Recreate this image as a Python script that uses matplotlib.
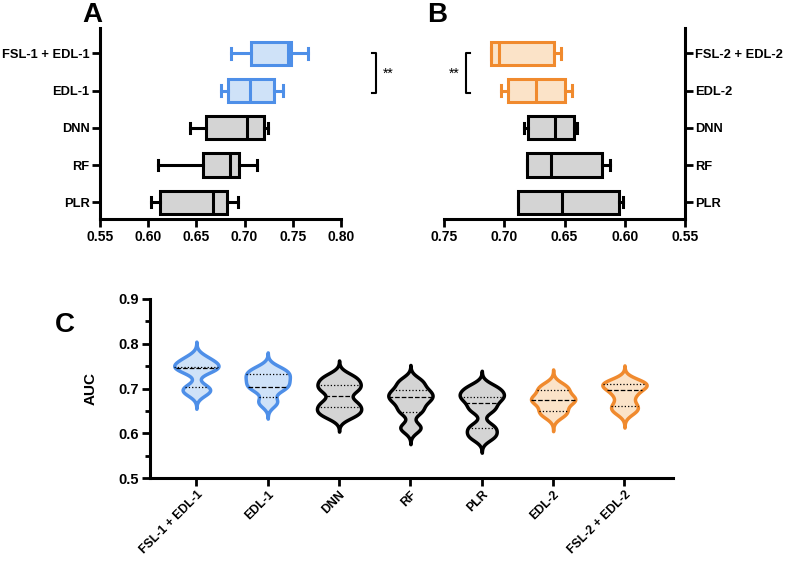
import numpy as np
import matplotlib
matplotlib.use('Agg')
import matplotlib.pyplot as plt
from matplotlib.ticker import MultipleLocator

plt.rcParams['font.family'] = ['Liberation Sans', 'DejaVu Sans']
plt.rcParams['font.weight'] = 'bold'

# panel A - box stats, listed bottom to top
models_a = ['PLR', 'RF', 'DNN', 'EDL-1', 'FSL-1 + EDL-1']
a_min = [0.6027, 0.610, 0.6435, 0.676, 0.686]
a_q1 = [0.6123, 0.657, 0.660, 0.6825, 0.7065]
a_med = [0.6677, 0.685, 0.7023, 0.7058, 0.745]
a_q3 = [0.6815, 0.6946, 0.7206, 0.7307, 0.748]
a_max = [0.6936, 0.7127, 0.724, 0.7397, 0.766]

# panel B - box stats, listed bottom to top
models_b = ['PLR', 'RF', 'DNN', 'EDL-2', 'FSL-2 + EDL-2']
b_min = [0.6011, 0.6121, 0.6398, 0.644, 0.6527]
b_q1 = [0.605, 0.619, 0.6423, 0.6494, 0.659]
b_med = [0.652, 0.6616, 0.6575, 0.6735, 0.7047]
b_q3 = [0.6884, 0.6812, 0.6804, 0.697, 0.7107]
b_max = [0.6887, 0.6812, 0.684, 0.7025, 0.7107]

# panel C - AUC values behind each violin
models_c = ['FSL-1 + EDL-1', 'EDL-1', 'DNN', 'RF', 'PLR', 'EDL-2', 'FSL-2 + EDL-2']
auc_fsl1 = [0.692, 0.702, 0.741, 0.748, 0.755, 0.768]
auc_edl1 = [0.670, 0.699, 0.709, 0.722, 0.733, 0.744]
auc_dnn = [0.641, 0.655, 0.670, 0.696, 0.710, 0.726]
auc_rf = [0.613, 0.651, 0.672, 0.684, 0.696, 0.716]
auc_plr = [0.594, 0.614, 0.655, 0.676, 0.688, 0.703]
auc_edl2 = [0.642, 0.652, 0.671, 0.676, 0.680, 0.698, 0.706]
auc_fsl2 = [0.650, 0.663, 0.686, 0.703, 0.710, 0.715]
c_q1 = [0.7045, 0.682, 0.658, 0.6487, 0.6116, 0.650, 0.661]
c_med = [0.745, 0.7045, 0.684, 0.682, 0.6674, 0.675, 0.697]
c_q3 = [0.749, 0.7328, 0.708, 0.697, 0.682, 0.697, 0.711]

BLUE = '#4E8FE8'
BLUE_F = '#CFE2F8'
ORANGE = '#F08A2E'
ORANGE_F = '#FBE3C8'
GRAY_F = '#D4D4D4'
LW = 2.2

fig = plt.figure(figsize=(7.89, 5.63), dpi=100)


def box_panel(ax, names, lo, q1, med, q3, hi, hl, hl_face):
    stats = []
    for i in range(len(names)):
        stats.append(dict(whislo=lo[i], q1=q1[i], med=med[i], q3=q3[i],
                          whishi=hi[i], fliers=[]))
    bp = ax.bxp(stats, positions=range(len(names)), orientation='horizontal',
                widths=0.62, patch_artist=True, showfliers=False, capwidths=0.28)
    for i in range(len(names)):
        ec = hl if i >= 3 else 'black'
        fc = hl_face if i >= 3 else GRAY_F
        bp['boxes'][i].set(facecolor=fc, edgecolor=ec, linewidth=LW)
        bp['medians'][i].set(color=ec, linewidth=LW)
        for k in (2 * i, 2 * i + 1):
            bp['whiskers'][k].set(color=ec, linewidth=LW)
            bp['caps'][k].set(color=ec, linewidth=LW)
    ax.set_yticks(range(len(names)))
    ax.set_yticklabels(names, fontsize=9.3, fontweight='bold')
    ax.set_ylim(-0.45, 4.68)
    ax.xaxis.set_major_locator(MultipleLocator(0.05))
    ax.xaxis.set_major_formatter(plt.FormatStrFormatter('%.2f'))
    ax.tick_params(width=2, length=6, pad=1.5)
    ax.tick_params(axis='x', labelsize=10, pad=2)
    for lab in ax.get_xticklabels():
        lab.set_fontweight('bold')
    ax.spines['top'].set_visible(False)
    for s in ax.spines.values():
        s.set_linewidth(LW)


# A
axA = fig.add_axes([100 / 789, 1 - 219 / 563, 241 / 789, 191 / 563])
box_panel(axA, models_a, a_min, a_q1, a_med, a_q3, a_max, BLUE, BLUE_F)
axA.set_xlim(0.55, 0.80)
axA.spines['right'].set_visible(False)
axA.plot([0.832, 0.8366, 0.8366, 0.832], [4, 4, 2.93, 2.93], color='black',
         lw=1.5, clip_on=False)
axA.text(0.849, 3.45, '**', fontsize=10, fontweight='normal', ha='center',
         va='center')

# B
axB = fig.add_axes([444 / 789, 1 - 219 / 563, 241 / 789, 191 / 563])
box_panel(axB, models_b, b_min, b_q1, b_med, b_q3, b_max, ORANGE, ORANGE_F)
axB.set_xlim(0.75, 0.55)
axB.spines['left'].set_visible(False)
axB.yaxis.tick_right()
axB.plot([0.7285, 0.732, 0.732, 0.7285], [4, 4, 2.93, 2.93], color='black',
         lw=1.5)
axB.text(0.7412, 3.45, '**', fontsize=10, fontweight='normal', ha='center',
         va='center')

# C - violins
axC = fig.add_axes([150 / 789, 1 - 478.3 / 563, 523 / 789, 179.3 / 563])
samples = [auc_fsl1, auc_edl1, auc_dnn, auc_rf, auc_plr, auc_edl2, auc_fsl2]
edges = [BLUE, BLUE, 'black', 'black', 'black', ORANGE, ORANGE]
faces = [BLUE_F, BLUE_F, GRAY_F, GRAY_F, GRAY_F, ORANGE_F, ORANGE_F]
bw = 0.0115
half = 0.31
for i, s in enumerate(samples):
    s = np.asarray(s)
    y = np.linspace(s.min() - 3.2 * bw, s.max() + 3.2 * bw, 300)
    dens = np.exp(-0.5 * ((y[:, None] - s[None, :]) / bw) ** 2).sum(axis=1)
    w = dens / dens.max() * half
    axC.fill_betweenx(y, i - w, i + w, facecolor=faces[i], edgecolor=edges[i],
                      linewidth=2.5, zorder=2)
    for q, ls in ((c_q1[i], ':'), (c_med[i], '--'), (c_q3[i], ':')):
        hw = np.interp(q, y, w)
        axC.plot([i - hw, i + hw], [q, q], color='black', lw=0.9, ls=ls, zorder=3)

axC.set_xlim(-0.65, 6.68)
axC.set_ylim(0.5, 0.9)
axC.set_xticks(range(len(models_c)))
axC.set_xticklabels(models_c, rotation=45, ha='right', va='top',
                    rotation_mode='anchor', fontweight='bold')
axC.yaxis.set_major_locator(MultipleLocator(0.1))
axC.yaxis.set_minor_locator(MultipleLocator(0.05))
axC.yaxis.set_major_formatter(plt.FormatStrFormatter('%.1f'))
axC.tick_params(which='major', width=2, length=6)
axC.tick_params(axis='y', which='major', pad=2, labelsize=10.5)
axC.tick_params(axis='x', which='major', pad=1.5, labelsize=8.8)
axC.tick_params(which='minor', width=2, length=3.5)
for lab in axC.get_yticklabels():
    lab.set_fontweight('bold')
axC.set_ylabel('AUC', fontsize=11, fontweight='bold', labelpad=15)
axC.spines['top'].set_visible(False)
axC.spines['right'].set_visible(False)
for s in axC.spines.values():
    s.set_linewidth(LW)

fig.text(82 / 789, 1 - 22 / 563, 'A', fontsize=20, fontweight='bold')
fig.text(427 / 789, 1 - 22 / 563, 'B', fontsize=20, fontweight='bold')
fig.text(55 / 789, 1 - 332 / 563, 'C', fontsize=20, fontweight='bold')

fig.savefig('out.png', dpi=100)
